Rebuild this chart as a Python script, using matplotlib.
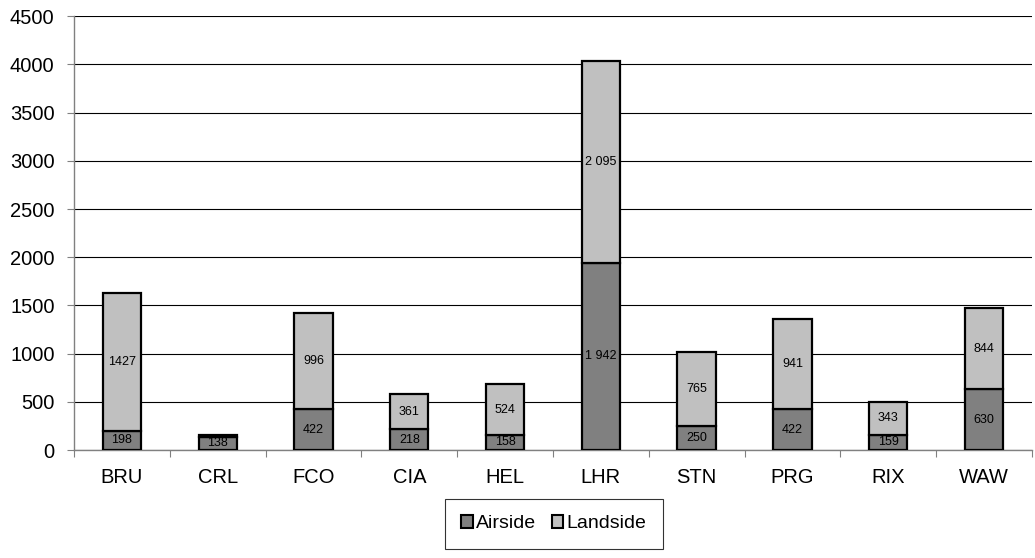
import matplotlib.pyplot as plt
from matplotlib.patches import Patch
import numpy as np

plt.rcParams['font.family'] = ['Liberation Sans', 'DejaVu Sans']

airports = ['BRU', 'CRL', 'FCO', 'CIA', 'HEL', 'LHR', 'STN', 'PRG', 'RIX', 'WAW']
airside = [198, 138, 422, 218, 158, 1942, 250, 422, 159, 630]
landside = [1427, 16, 996, 361, 524, 2095, 765, 941, 343, 844]
airside_labels = ['198', '138', '422', '218', '158', '1 942', '250', '422', '159', '630']
landside_labels = ['1427', '', '996', '361', '524', '2 095', '765', '941', '343', '844']

dark = '#808080'
light = '#c0c0c0'

fig = plt.figure(figsize=(10.35, 5.58), dpi=100)
ax = fig.add_axes([0.0715, 0.1935, 0.9255, 0.7775])

x = np.arange(len(airports))
w = 0.4
b1 = ax.bar(x, airside, w, color=dark, edgecolor='black', linewidth=1.6, zorder=3)
b2 = ax.bar(x, landside, w, bottom=airside, color=light, edgecolor='black',
            linewidth=1.6, zorder=3)

for i in x:
    ax.text(i, airside[i] / 2, airside_labels[i], ha='center', va='center',
            fontsize=9, zorder=4)
    if landside_labels[i]:
        ax.text(i, airside[i] + landside[i] / 2, landside_labels[i], ha='center',
                va='center', fontsize=9, zorder=4)

ax.set_xlim(-0.5, len(airports) - 0.5)
ax.set_ylim(0, 4500)
ax.set_yticks(np.arange(0, 4501, 500))
ax.yaxis.grid(True, color='black', linewidth=0.8, zorder=0)
ax.set_axisbelow(True)

# category labels sit between the boundary ticks
ax.set_xticks(np.arange(-0.5, len(airports)), minor=False)
ax.set_xticklabels([])
ax.set_xticks(x, minor=True)
ax.set_xticklabels(airports, minor=True)
ax.tick_params(axis='x', which='major', length=5, color=dark, direction='out')
ax.tick_params(axis='x', which='minor', length=0, pad=13, labelsize=14.5)
ax.tick_params(axis='y', length=5, color=dark, direction='out', pad=9, labelsize=14.5)

for s in ['top', 'right']:
    ax.spines[s].set_visible(False)
for s in ['left', 'bottom']:
    ax.spines[s].set_color(dark)
    ax.spines[s].set_linewidth(1.0)

handles = [Patch(facecolor=dark, edgecolor='black', linewidth=1.5, label='Airside'),
           Patch(facecolor=light, edgecolor='black', linewidth=1.5, label='Landside')]
leg = fig.legend(handles=handles, loc='center', bbox_to_anchor=(0.535, 0.061),
                 ncol=2, fontsize=14, frameon=True, fancybox=False,
                 handlelength=0.6, handleheight=0.6, handletextpad=0.15,
                 columnspacing=0.8, borderpad=0.85, borderaxespad=0)
leg.get_frame().set_edgecolor('black')
leg.get_frame().set_linewidth(0.8)

plt.savefig('out.png', dpi=100)
